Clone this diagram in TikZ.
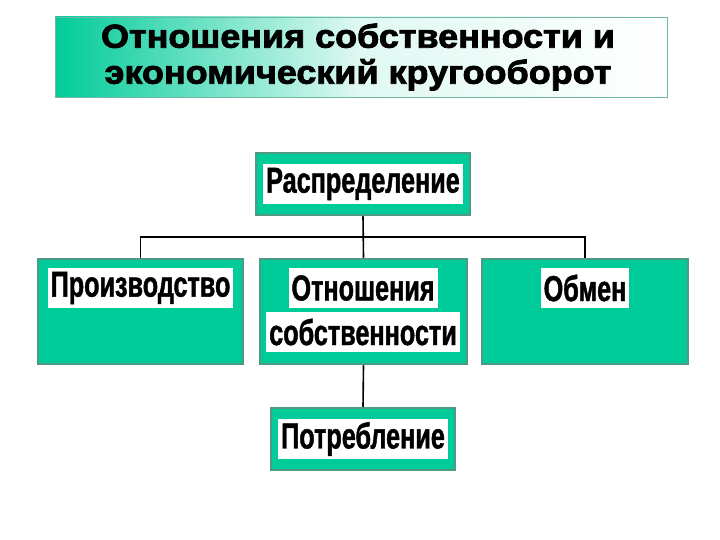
\documentclass[tikz,border=0pt]{standalone}
\usepackage{fontspec}
\usepackage{tikz}
\usetikzlibrary{positioning}

\newfontfamily\headfont[FakeStretch=1.09,FakeBold=2.5]{Liberation Sans}
\newfontfamily\boxfont[FakeStretch=0.7,FakeBold=1.2]{Liberation Sans}

\definecolor{boxgreen}{HTML}{00CC99}
\definecolor{boxedge}{HTML}{4E9A84}
\definecolor{headedge}{HTML}{6FB8A4}

\tikzset{
  box/.style={rectangle, fill=boxgreen, draw=boxedge, line width=2.5pt, inner sep=0pt},
  boxtext/.style={rectangle, fill=white, inner xsep=3pt, inner ysep=0pt,
    minimum height=40pt, font=\boxfont\bfseries\fontsize{36}{38}\selectfont},
  link/.style={draw=black, line width=1.6pt}
}

\begin{document}
\begin{tikzpicture}[x=1pt, y=-1pt]
  \useasboundingbox (0,0) rectangle (720,540);

  % Title
  \node[rectangle, draw=headedge, line width=0.8pt, left color=boxgreen,
        right color=white, middle color=white!88!boxgreen,
        minimum width=612pt, minimum height=80pt, inner sep=0pt] (head) at (361,57) {};
  \node[align=center, font=\headfont\bfseries\fontsize{33}{36}\selectfont] (headtxt) at (358,57)
    {Отношения собственности и\\экономический кругооборот};

  % Boxes
  \node[box, minimum width=214pt, minimum height=62pt] (distr) at (363,184) {};
  \node[boxtext] (distrtxt) at (distr) {Распределение};

  \node[box, minimum width=205pt, minimum height=105pt] (prod) at (140.5,311.5) {};
  \node[boxtext] (prodtxt) at (140.5,288) {Производство};

  \node[box, minimum width=207pt, minimum height=105pt] (own) at (363.5,311.5) {};
  \node[boxtext] (owntxt1) at (363,288) {Отношения};
  \node[boxtext] (owntxt2) at (363,332) {собственности};

  \node[box, minimum width=206pt, minimum height=105pt] (exch) at (585,311.5) {};
  \node[boxtext] (exchtxt) at (585,288) {Обмен};

  \node[box, minimum width=184pt, minimum height=62pt] (cons) at (363,439) {};
  \node[boxtext] (constxt) at (cons) {Потребление};

  % Connectors
  \coordinate (bar) at (363,237);
  \draw[link] (distr.south) -- (own.north);
  \draw[link] (prod.north) |- (bar) -| (exch.north);
  \draw[link] (own.south) -- (cons.north);
\end{tikzpicture}
\end{document}
